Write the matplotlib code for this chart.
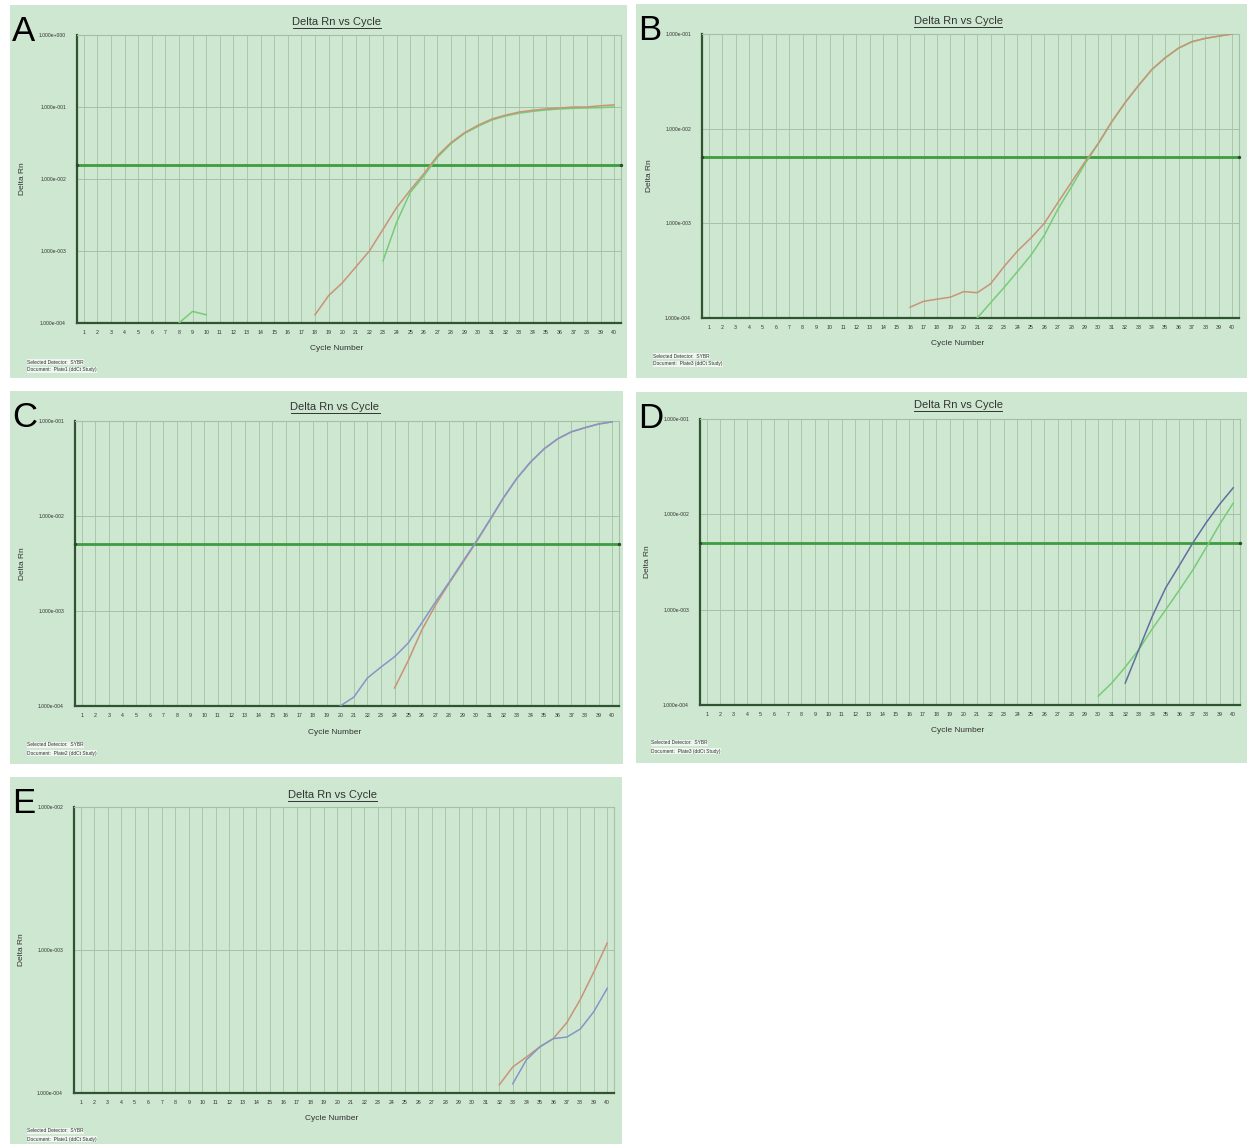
import numpy as np
import matplotlib
matplotlib.use("Agg")
import matplotlib.pyplot as plt
from matplotlib.patches import Rectangle
from matplotlib.lines import Line2D

plt.rcParams['font.family'] = ['Liberation Sans', 'DejaVu Sans']

W, H = 1247, 1144
CYCLES = np.arange(1, 41)

# ---- amplification data (Delta Rn per cycle; series start at the given cycle) ----
A_ORANGE_START = 18
A_ORANGE = [1.3e-4, 2.4e-4, 3.6e-4, 6.0e-4, 1.0e-3, 2.0e-3, 4.0e-3, 7.0e-3, 1.18e-2,
            2.1e-2, 3.2e-2, 4.4e-2, 5.6e-2, 6.8e-2, 7.7e-2, 8.5e-2, 9.0e-2, 9.4e-2,
            9.7e-2, 1.0e-1, 1.0e-1, 1.04e-1, 1.07e-1]
A_GREEN_EARLY_START = 8
A_GREEN_EARLY = [1.0e-4, 1.45e-4, 1.3e-4]
A_GREEN_START = 23
A_GREEN = [7.3e-4, 2.5e-3, 6.5e-3, 1.1e-2, 2.0e-2, 3.1e-2, 4.3e-2, 5.4e-2, 6.6e-2,
           7.5e-2, 8.2e-2, 8.7e-2, 9.1e-2, 9.4e-2, 9.6e-2, 9.7e-2, 9.8e-2, 1.0e-1]
A_THRESHOLD = 0.0155

B_ORANGE_START = 16
B_ORANGE = [1.3e-4, 1.5e-4, 1.58e-4, 1.66e-4, 1.9e-4, 1.85e-4, 2.3e-4, 3.5e-4, 5.1e-4,
            7.0e-4, 1.0e-3, 1.65e-3, 2.7e-3, 4.4e-3, 6.9e-3, 1.17e-2, 1.87e-2, 2.84e-2,
            4.2e-2, 5.6e-2, 7.1e-2, 8.3e-2, 9.0e-2, 9.5e-2, 1.0e-1]
B_GREEN_START = 21
B_GREEN = [1.0e-4, 1.45e-4, 2.1e-4, 3.1e-4, 4.6e-4, 7.5e-4, 1.4e-3, 2.4e-3, 4.2e-3,
           6.9e-3, 1.17e-2, 1.87e-2, 2.84e-2, 4.2e-2, 5.6e-2, 7.1e-2, 8.3e-2, 9.0e-2,
           9.5e-2, 1.0e-1]
B_THRESHOLD = 0.005

C_BLUE_START = 20
C_BLUE = [1.0e-4, 1.24e-4, 1.97e-4, 2.57e-4, 3.3e-4, 4.6e-4, 7.5e-4, 1.24e-3, 2.0e-3,
          3.3e-3, 5.4e-3, 9.1e-3, 1.55e-2, 2.5e-2, 3.7e-2, 5.1e-2, 6.5e-2, 7.7e-2,
          8.5e-2, 9.3e-2, 9.8e-2]
C_ORANGE_START = 24
C_ORANGE = [1.55e-4, 3.0e-4, 6.3e-4, 1.15e-3, 1.95e-3, 3.2e-3, 5.3e-3, 9.0e-3, 1.55e-2,
            2.5e-2, 3.7e-2, 5.1e-2, 6.5e-2, 7.7e-2, 8.5e-2, 9.3e-2, 9.8e-2]
C_THRESHOLD = 0.0051

D_GREEN_START = 30
D_GREEN = [1.24e-4, 1.7e-4, 2.5e-4, 3.8e-4, 6.3e-4, 1.0e-3, 1.6e-3, 2.6e-3, 4.5e-3,
           7.9e-3, 1.31e-2]
D_BLUE_START = 32
D_BLUE = [1.7e-4, 3.8e-4, 8.5e-4, 1.7e-3, 2.9e-3, 5.0e-3, 8.2e-3, 1.28e-2, 1.9e-2]
D_THRESHOLD = 0.005

E_ORANGE_START = 32
E_ORANGE = [1.14e-4, 1.52e-4, 1.78e-4, 2.1e-4, 2.4e-4, 3.1e-4, 4.5e-4, 7.0e-4, 1.12e-3]
E_BLUE_START = 33
E_BLUE = [1.16e-4, 1.7e-4, 2.1e-4, 2.4e-4, 2.46e-4, 2.8e-4, 3.7e-4, 5.4e-4]

DECADE_LABELS = {0: "1.000e+000", -1: "1.000e-001", -2: "1.000e-002",
                 -3: "1.000e-003", -4: "1.000e-004"}

# ---- styling ----
PANEL_BG = "#cee7d1"
GRID = "#a3c2a3"
AXIS = "#2e5530"
THRESH = "#3f9c3f"
ORANGE = "#c99378"
GREEN = "#76cc76"
BLUE = "#8496c8"
BLUE_DARK = "#5f6f9e"
TEXT = "#333333"

fig = plt.figure(figsize=(W / 100, H / 100), dpi=100)
fig.patch.set_facecolor("white")


def fx(x):
    return x / W


def fy(y):
    return 1 - y / H


def series(start, values):
    y = np.full(CYCLES.shape, np.nan)
    y[start - 1:start - 1 + len(values)] = values
    return y


titles = []


def make_panel(letter, bg, plot, ymin_exp, ymax_exp, curves, threshold,
               title_xy, doc, foot_xy, cyc_y):
    x0, y0, x1, y1 = bg
    fig.add_artist(Rectangle((fx(x0), fy(y1)), fx(x1 - x0), (y1 - y0) / H,
                             transform=fig.transFigure, facecolor=PANEL_BG,
                             edgecolor="none", zorder=0))
    px0, py0, px1, py1 = plot
    ax = fig.add_axes([fx(px0), fy(py1), fx(px1 - px0), (py1 - py0) / H])
    ax.set_facecolor(PANEL_BG)
    ax.set_yscale("log")
    ax.set_xlim(0.5, 40.5)
    ax.set_ylim(10.0 ** ymin_exp, 10.0 ** ymax_exp)
    for c in CYCLES:
        ax.axvline(c, color=GRID, lw=0.6, zorder=1)
    exps = list(range(ymin_exp, ymax_exp + 1))
    for e in exps:
        ax.axhline(10.0 ** e, color=GRID, lw=0.7, zorder=1)
    ax.set_yticks([10.0 ** e for e in exps])
    ax.set_yticklabels([DECADE_LABELS[e] for e in exps])
    ax.yaxis.set_minor_locator(matplotlib.ticker.NullLocator())
    ax.set_xticks(CYCLES)
    ax.set_xticklabels([str(c) for c in CYCLES])
    ax.tick_params(axis="y", length=0, pad=8, labelsize=3.6, labelcolor=TEXT)
    ax.tick_params(axis="x", length=0, pad=5, labelsize=3.8, labelcolor=TEXT)
    for s in ("top", "right"):
        ax.spines[s].set_color(GRID)
        ax.spines[s].set_linewidth(0.8)
    for s in ("left", "bottom"):
        ax.spines[s].set_color(AXIS)
        ax.spines[s].set_linewidth(1.6)
    if threshold is not None:
        ax.plot([0.5, 40.5], [threshold, threshold], color=THRESH, lw=2.0,
                zorder=3, solid_capstyle="butt", clip_on=False)
        ax.plot([0.5, 40.5], [threshold, threshold], ls="none", marker="o",
                ms=1.4, color="#2a4a2a", zorder=4, clip_on=False)
    for start, values, color in curves:
        ax.plot(CYCLES, series(start, values), color=color, lw=1.1, zorder=5)
    ax.set_ylabel("Delta Rn", fontsize=6, color=TEXT, labelpad=9)
    # panel letter
    fig.text(fx(x0 + 2), fy(y0 + 36), letter, fontsize=25, color="black",
             ha="left", va="baseline")
    t = fig.text(fx(title_xy[0]), fy(title_xy[1]), "Delta Rn vs Cycle",
                 fontsize=8, color=TEXT, ha="center", va="center")
    fig.text(fx(title_xy[0]), fy(cyc_y), "Cycle Number", fontsize=6,
             color=TEXT, ha="center", va="center")
    fig.text(fx(foot_xy[0]), fy(foot_xy[1]), "Selected Detector:  SYBR",
             fontsize=3.5, color=TEXT, ha="left", va="center",
             bbox=dict(facecolor="#eef6ef", edgecolor="none", pad=0.3))
    fig.text(fx(foot_xy[0]), fy(foot_xy[1] + 8), "Document:  " + doc + " (ddCt Study)",
             fontsize=3.5, color=TEXT, ha="left", va="center",
             bbox=dict(facecolor="#eef6ef", edgecolor="none", pad=0.3))
    titles.append(t)
    return ax


make_panel("A", (10, 5, 627, 378), (77, 35, 621, 323), -4, 0,
           [(A_GREEN_EARLY_START, A_GREEN_EARLY, GREEN),
            (A_GREEN_START, A_GREEN, GREEN),
            (A_ORANGE_START, A_ORANGE, ORANGE)],
           A_THRESHOLD, (337, 22), "Plate1", (27, 362), 349)

make_panel("B", (636, 4, 1247, 378), (702, 34, 1239, 318), -4, -1,
           [(B_GREEN_START, B_GREEN, GREEN),
            (B_ORANGE_START, B_ORANGE, ORANGE)],
           B_THRESHOLD, (958, 21), "Plate3", (653, 356), 344)

make_panel("C", (10, 391, 623, 764), (75, 421, 619, 706), -4, -1,
           [(C_ORANGE_START, C_ORANGE, ORANGE),
            (C_BLUE_START, C_BLUE, BLUE)],
           C_THRESHOLD, (335, 407), "Plate2", (27, 745), 733)

make_panel("D", (636, 392, 1247, 763), (700, 419, 1240, 705), -4, -1,
           [(D_GREEN_START, D_GREEN, GREEN),
            (D_BLUE_START, D_BLUE, BLUE_DARK)],
           D_THRESHOLD, (958, 405), "Plate3", (651, 743), 730)

make_panel("E", (10, 777, 622, 1144), (74, 807, 614, 1093), -4, -2,
           [(E_ORANGE_START, E_ORANGE, ORANGE),
            (E_BLUE_START, E_BLUE, BLUE)],
           None, (332, 795), "Plate1", (27, 1131), 1118)

# underline the chart titles
fig.canvas.draw()
renderer = fig.canvas.get_renderer()
for t in titles:
    bb = t.get_window_extent(renderer)
    yline = bb.y0 - 1
    fig.add_artist(Line2D([bb.x0 / W, bb.x1 / W], [yline / H, yline / H],
                          transform=fig.transFigure, color=TEXT, lw=0.7))

fig.savefig("out.png", dpi=100, facecolor="white")
